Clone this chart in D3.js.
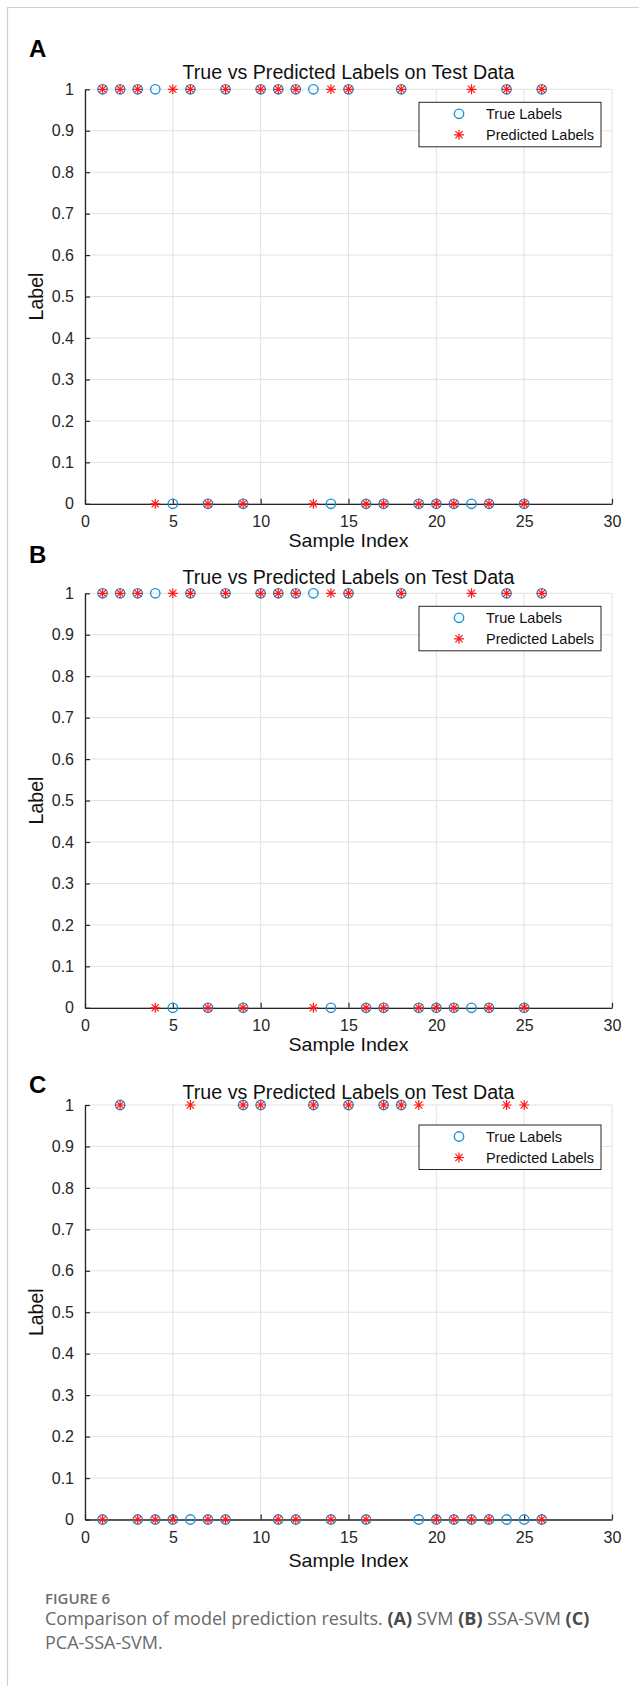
<!DOCTYPE html>
<html>
<head>
<meta charset="utf-8">
<script src="https://cdn.jsdelivr.net/npm/d3@7"></script>
<style>
body{margin:0;background:#fff}
svg text{font-family:"Liberation Sans",Arial,sans-serif}
</style>
</head>
<body>
<div class="Chart"></div>
<script>
// sample index 1..26
const sampleIndex=d3.range(1,27)

// labels per sample (0 / 1)
const trueA=[1,1,1,1,0,1,0,1,0,1,1,1,1,0,1,0,0,1,0,0,0,0,0,1,0,1]
const predA=[1,1,1,0,1,1,0,1,0,1,1,1,0,1,1,0,0,1,0,0,0,1,0,1,0,1]
const trueB=[1,1,1,1,0,1,0,1,0,1,1,1,1,0,1,0,0,1,0,0,0,0,0,1,0,1]
const predB=[1,1,1,0,1,1,0,1,0,1,1,1,0,1,1,0,0,1,0,0,0,1,0,1,0,1]
const trueC=[0,1,0,0,0,0,0,0,1,1,0,0,1,0,1,0,1,1,0,0,0,0,0,0,0,0]
const predC=[0,1,0,0,0,1,0,0,1,1,0,0,1,0,1,0,1,1,1,0,0,0,0,1,1,0]

const xTicks=[0,5,10,15,20,25,30]
const yTicks=[0,0.1,0.2,0.3,0.4,0.5,0.6,0.7,0.8,0.9,1]
const panelNames=['A','B','C']
const seriesNames=['True Labels','Predicted Labels']
const chartTitle='True vs Predicted Labels on Test Data'

const W=639,H=1686
const left=85,right=612
const panelTops=[89.3,593.3,1105]
const plotH=414.5
// per panel text placement (the three images were not cropped alike)
const letterOffsets=[32,30,12]
const titleOffsets=[10,9,6]
const xLabelOffsets=[43.5,43.5,47]
const legendOffsets=[13,13,20]

let svg=d3.select('.Chart').append('svg')
	.attr('width',W)
	.attr('height',H)

// card frame
svg.append('line').attr('x1',7).attr('x2',W).attr('y1',7.5).attr('y2',7.5)
	.attr('stroke','#cfcfcf').attr('stroke-width',1.2)
svg.append('line').attr('x1',7.5).attr('x2',7.5).attr('y1',7).attr('y2',H)
	.attr('stroke','#cfcfcf').attr('stroke-width',1.2)

let xScale=d3.scaleLinear().domain([0,30]).range([left,right])

const starPath=(r)=>{
	const d=r*0.72
	return `M${-r},0L${r},0M0,${-r}L0,${r}M${-d},${-d}L${d},${d}M${-d},${d}L${d},${-d}`
}

function panel(i,trueVals,predVals){
	const top=panelTops[i]
	let yScale=d3.scaleLinear().domain([0,1]).range([top+plotH,top])
	let g=svg.append('g')

	// grid
	g.selectAll('.vgrid').data(xTicks).enter().append('line')
		.attr('x1',d=>xScale(d)).attr('x2',d=>xScale(d))
		.attr('y1',yScale(0)).attr('y2',yScale(1))
		.attr('stroke','#e2e2e2').attr('stroke-width',1)
	g.selectAll('.hgrid').data(yTicks).enter().append('line')
		.attr('x1',left).attr('x2',right)
		.attr('y1',d=>yScale(d)).attr('y2',d=>yScale(d))
		.attr('stroke','#e2e2e2').attr('stroke-width',1)

	// axes, ticks inward
	let xAxis=d3.axisBottom(xScale).tickValues(xTicks).tickSizeInner(-5).tickSizeOuter(0).tickPadding(12)
	let yAxis=d3.axisLeft(yScale).tickValues(yTicks).tickSizeInner(-5).tickSizeOuter(0).tickPadding(11)
		.tickFormat(d=>d3.format('~g')(d))
	g.append('g').attr('transform',`translate(0,${yScale(0)})`).call(xAxis)
	g.append('g').attr('transform',`translate(${left},0)`).call(yAxis)
	g.selectAll('.domain').attr('stroke','#262626').attr('stroke-width',1.3)
	g.selectAll('.tick line').attr('stroke','#262626').attr('stroke-width',1.2)
	g.selectAll('.tick text').attr('fill','#262626').style('font-size','16px')
		.style('font-family','"Liberation Sans",Arial,sans-serif')

	// titles
	g.append('text').attr('x',29).attr('y',top-letterOffsets[i])
		.style('font-size','24px').style('font-weight','bold').text(panelNames[i])
	g.append('text').attr('x',(left+right)/2).attr('y',top-titleOffsets[i])
		.attr('text-anchor','middle').style('font-size','20px')
		.attr('textLength',332).attr('lengthAdjust','spacingAndGlyphs')
		.attr('fill','#111').text(chartTitle)
	g.append('text').attr('x',(left+right)/2).attr('y',yScale(0)+xLabelOffsets[i])
		.attr('text-anchor','middle').style('font-size','19px')
		.attr('textLength',120).attr('lengthAdjust','spacingAndGlyphs')
		.attr('fill','#111').text('Sample Index')
	g.append('text').attr('transform',`translate(43,${(yScale(0)+yScale(1))/2}) rotate(-90)`)
		.attr('text-anchor','middle').style('font-size','19.5px')
		.attr('fill','#111').text('Label')

	// markers
	g.selectAll('.trueM').data(sampleIndex).enter().append('circle')
		.attr('cx',d=>xScale(d)).attr('cy',(d,j)=>yScale(trueVals[j]))
		.attr('r',4.7).attr('fill','none').attr('stroke','#1a93d6').attr('stroke-width',1.4)
	g.selectAll('.predM').data(sampleIndex).enter().append('path')
		.attr('transform',(d,j)=>`translate(${xScale(d)},${yScale(predVals[j])})`)
		.attr('d',starPath(5)).attr('fill','none').attr('stroke','#ff1a1a').attr('stroke-width',1.2)

	// legend
	const ly=top+legendOffsets[i]
	let lg=g.append('g').attr('transform',`translate(419,${ly})`)
	lg.append('rect').attr('width',182).attr('height',44.5)
		.attr('fill','#fff').attr('stroke','#262626').attr('stroke-width',1)
	lg.append('circle').attr('cx',40).attr('cy',11.5).attr('r',4.7)
		.attr('fill','none').attr('stroke','#1a93d6').attr('stroke-width',1.4)
	lg.append('path').attr('transform','translate(40,32.5)').attr('d',starPath(5))
		.attr('fill','none').attr('stroke','#ff1a1a').attr('stroke-width',1.2)
	lg.selectAll('.lt').data(seriesNames).enter().append('text')
		.attr('x',67).attr('y',(d,j)=>16.5+j*21).style('font-size','14.5px')
		.attr('fill','#111').text(d=>d)
}

panel(0,trueA,predA)
panel(1,trueB,predB)
panel(2,trueC,predC)

// caption
const capFont='"Open Sans","Noto Sans",sans-serif'
svg.append('text').attr('x',45).attr('y',1604).style('font-family',capFont)
	.style('font-size','15px').style('font-weight','600').attr('fill','#6e6e6e').text('FIGURE 6')
let cap1=svg.append('text').attr('x',45).attr('y',1625).style('font-family',capFont)
	.style('font-size','18px').attr('fill','#6a6a6a')
const capParts=[['Comparison of model prediction results. ',false],['(A)',true],[' SVM ',false],['(B)',true],[' SSA-SVM ',false],['(C)',true]]
capParts.forEach(p=>{
	cap1.append('tspan').text(p[0]).style('font-weight',p[1]?'700':'400').attr('fill',p[1]?'#4a4a4a':'#6a6a6a')
})
svg.append('text').attr('x',45).attr('y',1649).style('font-family',capFont)
	.style('font-size','18px').attr('fill','#6a6a6a').text('PCA-SSA-SVM.')
</script>
</body>
</html>
